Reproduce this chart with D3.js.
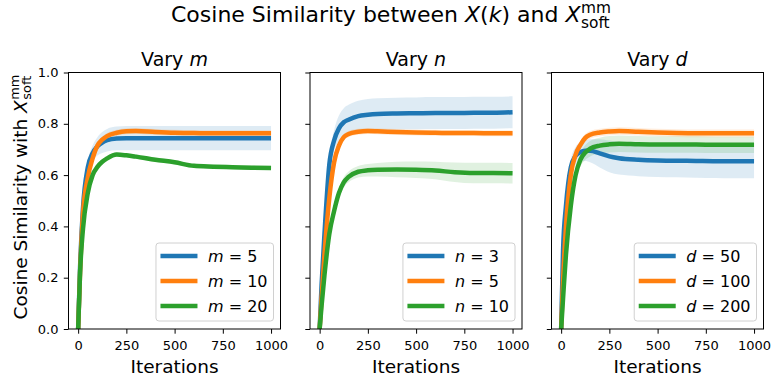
<!DOCTYPE html>
<html>
<head>
<meta charset="utf-8">
<script src="https://d3js.org/d3.v7.min.js"></script>
<style>
  body { margin: 0; background: #fff; }
  text { font-family: 'DejaVu Sans', sans-serif; fill: #000; white-space: pre; }
</style>
</head>
<body>
<svg id="chart" width="771" height="379"></svg>
<script>
const iterations = [0, 10, 25, 50, 75, 100, 125, 150, 200, 250, 300, 400, 500, 600, 700, 800, 900, 1000];

// Vary m
const m5Mean    = [0, 0.24, 0.47, 0.63, 0.685, 0.712, 0.727, 0.736, 0.743, 0.744, 0.744, 0.744, 0.744, 0.744, 0.744, 0.744, 0.744, 0.744];
const m5Spread  = [0, 0.008, 0.015, 0.022, 0.03, 0.036, 0.041, 0.044, 0.046, 0.047, 0.047, 0.047, 0.047, 0.047, 0.047, 0.047, 0.047, 0.047];
const m10Mean   = [0, 0.22, 0.45, 0.59, 0.665, 0.715, 0.738, 0.752, 0.765, 0.771, 0.772, 0.768, 0.765, 0.764, 0.763, 0.763, 0.763, 0.763];
const m10Spread = [0, 0.005, 0.008, 0.01, 0.012, 0.012, 0.012, 0.012, 0.012, 0.012, 0.012, 0.012, 0.012, 0.012, 0.012, 0.012, 0.012, 0.012];
const m20Mean   = [0, 0.22, 0.39, 0.53, 0.6, 0.632, 0.652, 0.665, 0.68, 0.677, 0.672, 0.66, 0.65, 0.636, 0.633, 0.631, 0.629, 0.628];
const m20Spread = [0, 0.004, 0.006, 0.008, 0.008, 0.008, 0.008, 0.008, 0.008, 0.008, 0.008, 0.008, 0.008, 0.008, 0.008, 0.008, 0.008, 0.008];

// Vary n
const n3Mean    = [0, 0.17, 0.37, 0.64, 0.735, 0.782, 0.806, 0.816, 0.83, 0.835, 0.838, 0.84, 0.841, 0.842, 0.842, 0.843, 0.843, 0.845];
const n3Spread  = [0, 0.01, 0.02, 0.03, 0.04, 0.05, 0.055, 0.058, 0.06, 0.062, 0.062, 0.062, 0.062, 0.062, 0.062, 0.062, 0.062, 0.062];
const n5Mean    = [0, 0.12, 0.29, 0.51, 0.65, 0.715, 0.748, 0.76, 0.769, 0.772, 0.771, 0.768, 0.766, 0.765, 0.764, 0.764, 0.763, 0.763];
const n5Spread  = [0, 0.005, 0.008, 0.01, 0.012, 0.012, 0.012, 0.012, 0.012, 0.012, 0.012, 0.012, 0.012, 0.012, 0.012, 0.012, 0.012, 0.012];
const n10Mean   = [0, 0.09, 0.21, 0.37, 0.46, 0.53, 0.572, 0.593, 0.613, 0.619, 0.621, 0.622, 0.621, 0.618, 0.611, 0.608, 0.608, 0.607];
const n10Spread = [0, 0.005, 0.01, 0.014, 0.017, 0.019, 0.02, 0.021, 0.022, 0.024, 0.026, 0.03, 0.032, 0.034, 0.038, 0.04, 0.04, 0.04];

// Vary d
const d50Mean    = [0, 0.31, 0.48, 0.63, 0.675, 0.69, 0.695, 0.695, 0.685, 0.673, 0.666, 0.66, 0.657, 0.656, 0.655, 0.654, 0.654, 0.654];
const d50Spread  = [0, 0.01, 0.02, 0.03, 0.035, 0.037, 0.04, 0.045, 0.055, 0.062, 0.064, 0.064, 0.064, 0.064, 0.065, 0.065, 0.066, 0.066];
const d100Mean   = [0, 0.19, 0.4, 0.6, 0.68, 0.718, 0.745, 0.757, 0.766, 0.77, 0.772, 0.769, 0.766, 0.764, 0.763, 0.763, 0.763, 0.763];
const d100Spread = [0, 0.006, 0.01, 0.013, 0.015, 0.015, 0.015, 0.015, 0.015, 0.015, 0.015, 0.015, 0.015, 0.015, 0.015, 0.015, 0.015, 0.015];
const d200Mean   = [0, 0.12, 0.29, 0.48, 0.6, 0.66, 0.688, 0.703, 0.715, 0.72, 0.722, 0.72, 0.719, 0.719, 0.719, 0.718, 0.718, 0.718];
const d200Spread = [0, 0.006, 0.012, 0.018, 0.022, 0.026, 0.028, 0.03, 0.031, 0.032, 0.032, 0.032, 0.032, 0.032, 0.032, 0.032, 0.032, 0.032];

const xTicks = [0, 250, 500, 750, 1000];
const yTicks = [0, 0.2, 0.4, 0.6, 0.8, 1.0];
const colors = ['#1f77b4', '#ff7f0e', '#2ca02c'];

const panels = [
    { variable: 'm', labels: ['5', '10', '20'],
      means: [m5Mean, m10Mean, m20Mean], spreads: [m5Spread, m10Spread, m20Spread] },
    { variable: 'n', labels: ['3', '5', '10'],
      means: [n3Mean, n5Mean, n10Mean], spreads: [n3Spread, n5Spread, n10Spread] },
    { variable: 'd', labels: ['50', '100', '200'],
      means: [d50Mean, d100Mean, d200Mean], spreads: [d50Spread, d100Spread, d200Spread] }
];

const panelLefts = [68.5, 310, 551.5];
const panelWidth = 212;
const plotTop = 72.5, plotBottom = 329;

const svg = d3.select('#chart');

// text with optional stacked super/subscript after it (like mathtext X^mm_soft)
function mathLabel(parent, x, y, size, parts, opts) {
    opts = opts || {};
    const outer = parent.append('g')
        .attr('transform', `translate(${x},${y})` + (opts.rotate ? ' rotate(-90)' : ''));
    const g = outer.append('g');
    const t = g.append('text').attr('font-size', size);
    parts.forEach(p => t.append('tspan').attr('font-style', p[1] ? 'italic' : null).text(p[0]));
    const w = t.node().getComputedTextLength();
    let total = w;
    if (opts.sup) {
        const sp = g.append('text').attr('font-size', size * 0.7)
            .attr('x', w + 0.5).attr('y', -size * 0.42).text(opts.sup);
        const sb = g.append('text').attr('font-size', size * 0.7)
            .attr('x', w + 0.5).attr('y', size * 0.25).text(opts.sub);
        total = w + 0.5 + Math.max(sp.node().getComputedTextLength(), sb.node().getComputedTextLength());
    }
    if (opts.anchor === 'middle') g.attr('transform', `translate(${-total / 2},0)`);
    return total;
}

// figure title
mathLabel(svg, 391, 22, 22,
    [['Cosine Similarity between '], ['X', true], ['('], ['k', true], [')'], [' and '], ['X', true]],
    { sup: 'mm', sub: 'soft', anchor: 'middle' });

// y label
mathLabel(svg, 26.5, 197, 18.5,
    [['Cosine Similarity with '], ['X', true]],
    { sup: 'mm', sub: 'soft', anchor: 'middle', rotate: true });

panels.forEach((p, pi) => {
    const left = panelLefts[pi];
    const x = d3.scaleLinear().domain([-50, 1049]).range([left, left + panelWidth]);
    const y = d3.scaleLinear().domain([0, 1]).range([plotBottom, plotTop]);
    const g = svg.append('g');

    const clipId = 'clip' + pi;
    g.append('clipPath').attr('id', clipId)
        .append('rect').attr('x', left).attr('y', plotTop).attr('width', panelWidth).attr('height', plotBottom - plotTop);

    const area = d3.area()
        .x((d, i) => x(iterations[i]))
        .y0(d => y(d[0] - d[1]))
        .y1(d => y(d[0] + d[1]))
        .curve(d3.curveMonotoneX);
    const line = d3.line()
        .x((d, i) => x(iterations[i]))
        .y(d => y(d))
        .curve(d3.curveMonotoneX);

    const plot = g.append('g').attr('clip-path', `url(#${clipId})`);
    p.means.forEach((m, si) => {
        plot.append('path')
            .attr('d', area(m.map((v, i) => [v, p.spreads[si][i]])))
            .style('fill', colors[si])
            .style('fill-opacity', 0.15)
            .style('stroke', 'none');
    });
    p.means.forEach((m, si) => {
        plot.append('path')
            .attr('d', line(m))
            .style('fill', 'none')
            .style('stroke', colors[si])
            .style('stroke-width', 4.5)
            .style('stroke-linejoin', 'round');
    });

    // axes
    const xAxis = g.append('g')
        .attr('transform', `translate(0,${plotBottom})`)
        .call(d3.axisBottom(x).tickValues(xTicks).tickSize(4.7).tickPadding(7).tickFormat(d3.format('d')));
    const yAxis = g.append('g')
        .attr('transform', `translate(${left},0)`)
        .call(d3.axisLeft(y).tickValues(yTicks).tickSize(4.7).tickPadding(5.3)
            .tickFormat(pi === 0 ? d3.format('.1f') : ''));
    [xAxis, yAxis].forEach(a => {
        a.select('.domain').remove();
        a.attr('font-family', null).attr('font-size', null);
        a.selectAll('line').style('stroke', '#000').style('stroke-width', 1);
        a.selectAll('text').style('font-size', '13px');
    });

    // frame
    g.append('rect')
        .attr('x', left).attr('y', plotTop)
        .attr('width', panelWidth).attr('height', plotBottom - plotTop)
        .style('fill', 'none').style('stroke', '#000').style('stroke-width', 1);

    // titles
    mathLabel(g, left + panelWidth / 2, 66, 19, [['Vary '], [p.variable, true]], { anchor: 'middle' });
    g.append('text')
        .attr('x', left + panelWidth / 2).attr('y', 372.5)
        .attr('text-anchor', 'middle')
        .attr('font-size', 18.5)
        .text('Iterations');

    // legend
    const leg = g.append('g');
    const box = leg.append('rect');
    let maxW = 0;
    p.labels.forEach((lab, si) => {
        const cy = 13 + si * 25;
        leg.append('line')
            .attr('x1', 4.5).attr('x2', 41.5).attr('y1', cy).attr('y2', cy)
            .style('stroke', colors[si]).style('stroke-width', 4.5);
        const t = leg.append('text').attr('x', 52).attr('y', cy + 5.8).attr('font-size', 16);
        t.append('tspan').attr('font-style', 'italic').text(p.variable);
        t.append('tspan').text(' = ' + lab);
        maxW = Math.max(maxW, t.node().getComputedTextLength());
    });
    const legW = 52 + maxW + 6, legH = 78;
    box.attr('width', legW).attr('height', legH).attr('rx', 3)
        .style('fill', '#fff').style('fill-opacity', 0.8)
        .style('stroke', '#d0d0d0').style('stroke-width', 1);
    leg.attr('transform', `translate(${left + panelWidth - 7 - legW},${plotBottom - 8 - legH})`);
});
</script>
</body>
</html>
